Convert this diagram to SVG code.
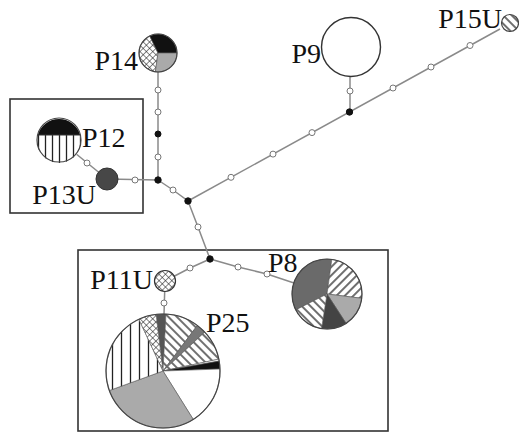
<svg xmlns="http://www.w3.org/2000/svg" width="519" height="435" viewBox="0 0 519 435">
  <defs>
    <pattern id="vstripe" width="7" height="10" patternUnits="userSpaceOnUse">
      <rect width="7" height="10" fill="#fff"/>
      <line x1="3.5" y1="0" x2="3.5" y2="10" stroke="#222" stroke-width="1.3"/>
    </pattern>
    <pattern id="vstripeWide" width="9" height="10" patternUnits="userSpaceOnUse">
      <rect width="9" height="10" fill="#fff"/>
      <line x1="4.5" y1="0" x2="4.5" y2="10" stroke="#222" stroke-width="1.3"/>
    </pattern>
    <pattern id="hatchBack" width="6" height="6" patternUnits="userSpaceOnUse" patternTransform="rotate(-45)">
      <rect width="6" height="6" fill="#fff"/>
      <line x1="3" y1="0" x2="3" y2="6" stroke="#222" stroke-width="1.3"/>
    </pattern>
    <pattern id="hatchFwd" width="6" height="6" patternUnits="userSpaceOnUse" patternTransform="rotate(45)">
      <rect width="6" height="6" fill="#fff"/>
      <line x1="3" y1="0" x2="3" y2="6" stroke="#222" stroke-width="1.3"/>
    </pattern>
    <pattern id="cross" width="4.5" height="4.5" patternUnits="userSpaceOnUse" patternTransform="rotate(45)">
      <rect width="4.5" height="4.5" fill="#fff"/>
      <line x1="0" y1="0" x2="0" y2="4.5" stroke="#222" stroke-width="1.1"/>
      <line x1="0" y1="0" x2="4.5" y2="0" stroke="#222" stroke-width="1.1"/>
    </pattern>
  </defs>
  <style>
    .edge { stroke: #8a8a8a; stroke-width: 1.5; fill: none; }
    .box { fill: none; stroke: #333; stroke-width: 1.6; }
    .open { fill: #fff; stroke: #777; stroke-width: 1; }
    .solid { fill: #111; stroke: #111; stroke-width: 1; }
    .rim { fill: none; stroke: #444; stroke-width: 1.2; }
    .slice { stroke: #555; stroke-width: 0.6; }
    .lbl { font-family: "Liberation Serif", "Times New Roman", serif; font-size: 28px; fill: #111; }
  </style>

  <rect width="519" height="435" fill="#fff"/>

  <!-- grouping frames -->
  <rect class="box" x="10" y="99" width="133" height="114"/>
  <rect class="box" x="78" y="250" width="310" height="181"/>

  <!-- connectors with intermediate (missing) haplotypes -->
  <g id="connectors">
    <line class="edge" x1="158" y1="70" x2="158" y2="180"/>
    <line class="edge" x1="107" y1="179" x2="158" y2="180"/>
    <line class="edge" x1="59" y1="140" x2="107" y2="179"/>
    <polyline class="edge" points="158,180 173,190 188,201 198,227 210,259"/>
    <line class="edge" x1="188" y1="201" x2="500" y2="29"/>
    <line class="edge" x1="350" y1="112" x2="350" y2="76"/>
    <polyline class="edge" points="210,259 190,268 165,281"/>
    <polyline class="edge" points="210,259 238,267 267,274 327,294"/>
    <line class="edge" x1="165" y1="281" x2="164" y2="315"/>

    <circle class="open" cx="158" cy="90" r="3"/>
    <circle class="open" cx="158" cy="112" r="3"/>
    <circle class="solid" cx="158" cy="134" r="3"/>
    <circle class="open" cx="158" cy="157" r="3"/>
    <circle class="solid" cx="158" cy="180" r="3.2"/>
    <circle class="open" cx="135" cy="180" r="3"/>
    <circle class="open" cx="87" cy="163" r="3"/>
    <circle class="open" cx="173" cy="190" r="3"/>
    <circle class="solid" cx="188" cy="201" r="3.2"/>
    <circle class="open" cx="198" cy="227" r="3"/>
    <circle class="solid" cx="210" cy="259" r="3.2"/>
    <circle class="open" cx="190" cy="268" r="3"/>
    <circle class="open" cx="238" cy="267" r="3"/>
    <circle class="open" cx="267" cy="274" r="3"/>
    <circle class="open" cx="164" cy="303" r="3"/>
    <circle class="open" cx="231" cy="177.3" r="3"/>
    <circle class="open" cx="273" cy="154.1" r="3"/>
    <circle class="open" cx="312" cy="132.6" r="3"/>
    <circle class="solid" cx="349.5" cy="112" r="3.2"/>
    <circle class="open" cx="350" cy="91" r="3"/>
    <circle class="open" cx="393" cy="88" r="3"/>
    <circle class="open" cx="431" cy="67" r="3"/>
    <circle class="open" cx="470" cy="45.5" r="3"/>
  </g>

  <!-- haplotype P14 -->
  <g id="P14">
    <path class="slice" fill="url(#cross)" d="M158,53 L155.36,71.82 A19,19 0 0 1 149.67,35.92 Z"/>
    <path class="slice" fill="#111" d="M158,53 L149.67,35.92 A19,19 0 0 1 177,53 Z"/>
    <path class="slice" fill="#aaa" d="M158,53 L177,53 A19,19 0 0 1 155.36,71.82 Z"/>
    <circle class="rim" cx="158" cy="53" r="19"/>
    <text class="lbl" x="138" y="70" text-anchor="end">P14</text>
  </g>

  <!-- haplotype P9 -->
  <g id="P9">
    <circle cx="351" cy="47" r="29.5" fill="#fff" stroke="#333" stroke-width="1.4"/>
    <text class="lbl" x="321" y="63" text-anchor="end">P9</text>
  </g>

  <!-- haplotype P15U -->
  <g id="P15U">
    <circle cx="510" cy="23" r="8.5" fill="url(#hatchBack)" stroke="#444" stroke-width="1.2"/>
    <text class="lbl" x="502" y="28" text-anchor="end">P15U</text>
  </g>

  <!-- haplotype P12 -->
  <g id="P12">
    <path fill="#111" d="M37.83,135 A22,22 0 0 1 80.17,135 Z"/>
    <path fill="url(#vstripe)" d="M80.17,135 A22,22 0 1 1 37.83,135 Z"/>
    <line x1="37.83" y1="135" x2="80.17" y2="135" stroke="#333" stroke-width="1"/>
    <circle class="rim" cx="59" cy="140" r="22"/>
    <text class="lbl" x="82" y="147">P12</text>
  </g>

  <!-- haplotype P13U -->
  <g id="P13U">
    <circle cx="107" cy="179" r="11" fill="#474747" stroke="#333" stroke-width="1"/>
    <text class="lbl" x="96" y="204" text-anchor="end">P13U</text>
  </g>

  <!-- haplotype P11U -->
  <g id="P11U">
    <circle cx="165" cy="281" r="10.5" fill="url(#cross)" stroke="#333" stroke-width="1.2"/>
    <text class="lbl" x="153" y="289" text-anchor="end">P11U</text>
  </g>

  <!-- haplotype P8 -->
  <g id="P8">
    <path class="slice" fill="#6a6a6a" d="M327,294 L295.82,309.89 A35,35 0 0 1 331.87,259.34 Z"/>
    <path class="slice" fill="url(#hatchFwd)" d="M327,294 L331.87,259.34 A35,35 0 0 1 361.74,298.27 Z"/>
    <path class="slice" fill="#aaa" d="M327,294 L361.74,298.27 A35,35 0 0 1 346.06,323.35 Z"/>
    <path class="slice" fill="#444" d="M327,294 L346.06,323.35 A35,35 0 0 1 321.53,328.57 Z"/>
    <path class="slice" fill="url(#hatchBack)" d="M327,294 L321.53,328.57 A35,35 0 0 1 295.82,309.89 Z"/>
    <circle class="rim" cx="327" cy="294" r="35"/>
    <text class="lbl" x="268" y="272">P8</text>
  </g>

  <!-- haplotype P25 -->
  <g id="P25">
    <path class="slice" fill="#555" d="M163,371 L156.05,314.43 A57,57 0 0 1 165.98,314.08 Z"/>
    <path class="slice" fill="url(#hatchBack)" d="M163,371 L165.98,314.08 A57,57 0 0 1 197.30,325.48 Z"/>
    <path class="slice" fill="#777" d="M163,371 L197.30,325.48 A57,57 0 0 1 204.69,332.13 Z"/>
    <path class="slice" fill="url(#hatchBack)" d="M163,371 L204.69,332.13 A57,57 0 0 1 218.75,359.15 Z"/>
    <path class="slice" fill="#fff" d="M163,371 L218.75,359.15 A57,57 0 0 1 219.13,361.10 Z"/>
    <path class="slice" fill="#111" d="M163,371 L219.13,361.10 A57,57 0 0 1 219.97,369.01 Z"/>
    <path class="slice" fill="#fff" d="M163,371 L219.97,369.01 A57,57 0 0 1 193.21,419.34 Z"/>
    <path class="slice" fill="#aaa" d="M163,371 L193.21,419.34 A57,57 0 0 1 109.44,390.49 Z"/>
    <path class="slice" fill="url(#vstripeWide)" d="M163,371 L109.44,390.49 A57,57 0 0 1 138.91,319.34 Z"/>
    <path class="slice" fill="url(#cross)" d="M163,371 L138.91,319.34 A57,57 0 0 1 156.05,314.43 Z"/>
    <circle class="rim" cx="163" cy="371" r="57"/>
    <text class="lbl" x="206" y="332">P25</text>
  </g>
</svg>
